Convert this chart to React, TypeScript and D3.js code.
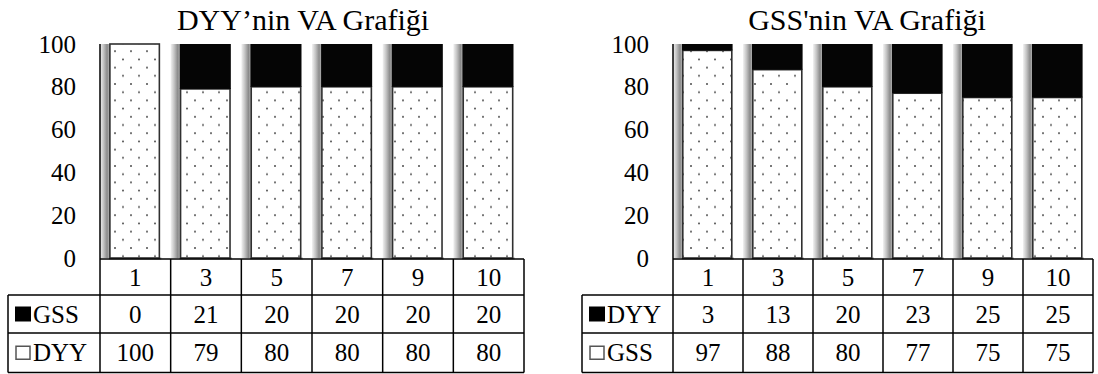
import React, { useEffect, useRef } from 'react';
import * as d3 from 'd3';

// Solution counts shown on the x axis / table header
const categories = ['1', '3', '5', '7', '9', '10'];

// Left chart: DYY's VA chart
const leftTitle = 'DYY\u2019nin VA Grafiği';
const leftBottomName = 'DYY';
const leftTopName = 'GSS';
const leftBottom = [100, 79, 80, 80, 80, 80];
const leftTop = [0, 21, 20, 20, 20, 20];

// Right chart: GSS's VA chart
const rightTitle = "GSS'nin VA Grafiği";
const rightBottomName = 'GSS';
const rightTopName = 'DYY';
const rightBottom = [97, 88, 80, 77, 75, 75];
const rightTop = [3, 13, 20, 23, 25, 25];

const yTicks = [0, 20, 40, 60, 80, 100];

const W = 1098;
const H = 374;
const SERIF = 'Times New Roman';

const Y_TOP = 44;
const Y_ZERO = 258;
const ROWS = [259, 295, 333, 372.5];

type ChartCfg = {
  id: string;
  title: string;
  titleX: number;
  plotLeft: number;
  plotRight: number;
  legendLeft: number;
  bottomName: string;
  topName: string;
  bottom: number[];
  top: number[];
};

function drawChart(svg: d3.Selection<SVGSVGElement, unknown, null, undefined>, p: ChartCfg) {
  const x = d3.scaleBand<string>().domain(categories).range([p.plotLeft, p.plotRight]).padding(0);
  const y = d3.scaleLinear().domain([0, 100]).range([Y_ZERO, Y_TOP]).clamp(true);
  const bw = x.bandwidth();

  const defs = svg.append('defs');
  const pat = defs
    .append('pattern')
    .attr('id', `${p.id}-dots`)
    .attr('patternUnits', 'userSpaceOnUse')
    .attr('x', 3)
    .attr('y', 2)
    .attr('width', 16)
    .attr('height', 16.4);
  pat.append('rect').attr('width', 16).attr('height', 16.4).attr('fill', '#fff');
  [
    [0, 0],
    [16, 0],
    [0, 16.4],
    [16, 16.4],
    [8, 8.2],
  ].forEach(([cx, cy]) => pat.append('circle').attr('cx', cx).attr('cy', cy).attr('r', 1).attr('fill', '#4a4a4a'));
  const grad = defs.append('linearGradient').attr('id', `${p.id}-side`).attr('x1', 0).attr('x2', 1).attr('y1', 0).attr('y2', 0);
  [
    [0, '#f2f2f2'],
    [0.35, '#c4c4c4'],
    [0.72, '#8a8a8a'],
    [1, '#c0c0c0'],
  ].forEach(([o, c]) => grad.append('stop').attr('offset', o as number).attr('stop-color', c as string));

  const g = svg.append('g');
  const label = (tx: number, ty: number, size: number, anchor: string, str: string) =>
    g
      .append('text')
      .attr('x', tx)
      .attr('y', ty)
      .attr('font-family', SERIF)
      .style('font-family', SERIF)
      .attr('font-size', size)
      .attr('text-anchor', anchor)
      .attr('fill', '#000')
      .text(str);

  label(p.titleX, 30, 30, 'middle', p.title);
  yTicks.forEach((t) => label(p.plotLeft - 24, y(t) + 8.5, 25, 'end', String(t)));

  const rows = categories.map((c, i) => ({ c, b: p.bottom[i], t: p.top[i] }));
  const stack = d3.stack<any>().keys(['b', 't'])(rows);

  categories.forEach((c, i) => {
    const x0 = x(c)!;
    const bx = x0 + bw * 0.14;
    const w = bw * 0.7;
    const b = stack[0][i];
    const t = stack[1][i];
    g.append('rect')
      .attr('x', x0)
      .attr('y', y(t[1]))
      .attr('width', bx - x0)
      .attr('height', Y_ZERO - y(t[1]))
      .attr('fill', `url(#${p.id}-side)`);
    g.append('rect').attr('x', bx - 1).attr('y', Y_ZERO - 0.5).attr('width', w + 3).attr('height', 2).attr('fill', '#9a9a9a');
    g.append('rect')
      .attr('x', bx)
      .attr('y', y(b[1]))
      .attr('width', w)
      .attr('height', y(b[0]) - y(b[1]))
      .attr('fill', `url(#${p.id}-dots)`)
      .attr('stroke', '#303030')
      .attr('stroke-width', 1.6);
    if (t[1] - t[0] > 0) {
      g.append('rect')
        .attr('x', bx - 0.8)
        .attr('y', y(t[1]))
        .attr('width', w + 1.6)
        .attr('height', y(t[0]) - y(t[1]))
        .attr('fill', '#050505');
    }
  });

  const line = (x1: number, y1: number, x2: number, y2: number) =>
    g.append('line').attr('x1', x1).attr('y1', y1).attr('x2', x2).attr('y2', y2).attr('stroke', '#000').attr('stroke-width', 1.5);

  line(p.plotLeft, Y_TOP, p.plotLeft, ROWS[0]);
  line(p.plotLeft, ROWS[0], p.plotRight, ROWS[0]);
  [1, 2, 3].forEach((r) => line(p.legendLeft, ROWS[r], p.plotRight, ROWS[r]));
  line(p.legendLeft, ROWS[1], p.legendLeft, ROWS[3]);
  categories.forEach((c) => line(x(c)!, ROWS[0], x(c)!, ROWS[3]));
  line(p.plotRight, ROWS[0], p.plotRight, ROWS[3]);

  categories.forEach((c) => label(x(c)! + bw / 2, (ROWS[0] + ROWS[1]) / 2 + 8.5, 25, 'middle', c));

  const tableRows = [
    { name: p.topName, values: p.top, filled: true },
    { name: p.bottomName, values: p.bottom, filled: false },
  ];
  tableRows.forEach((r, ri) => {
    const cy = (ROWS[ri + 1] + ROWS[ri + 2]) / 2;
    if (r.filled) {
      g.append('rect').attr('x', p.legendLeft + 7).attr('y', cy - 7.5).attr('width', 16).attr('height', 15).attr('fill', '#000');
    } else {
      g.append('rect')
        .attr('x', p.legendLeft + 8)
        .attr('y', cy - 6.5)
        .attr('width', 14)
        .attr('height', 13)
        .attr('fill', '#fff')
        .attr('stroke', '#555')
        .attr('stroke-width', 1.5);
    }
    label(p.legendLeft + 25, cy + 8.5, 25, 'start', r.name);
    r.values.forEach((v, i) => label(x(categories[i])! + bw / 2, cy + 8.5, 25, 'middle', String(v)));
  });
}

export default function App() {
  const ref = useRef<SVGSVGElement>(null);

  useEffect(() => {
    if (!ref.current) return;
    const svg = d3.select(ref.current);
    svg.selectAll('*').remove();
    drawChart(svg, {
      id: 'left',
      title: leftTitle,
      titleX: 303,
      plotLeft: 100,
      plotRight: 524,
      legendLeft: 8,
      bottomName: leftBottomName,
      topName: leftTopName,
      bottom: leftBottom,
      top: leftTop,
    });
    drawChart(svg, {
      id: 'right',
      title: rightTitle,
      titleX: 867,
      plotLeft: 673,
      plotRight: 1093,
      legendLeft: 582,
      bottomName: rightBottomName,
      topName: rightTopName,
      bottom: rightBottom,
      top: rightTop,
    });
  }, []);

  return <svg ref={ref} width={W} height={H} style={{ position: 'absolute', left: 0, top: 0 }} />;
}
